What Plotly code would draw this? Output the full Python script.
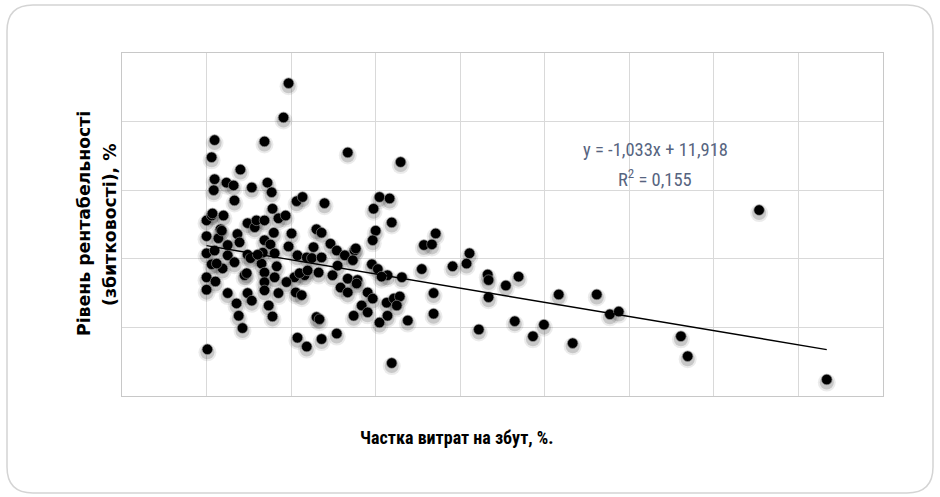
import plotly.graph_objects as go

# Share of distribution costs, % (x) vs. profitability (loss) level, % (y)
cost_share = [
    1.94, 1.82, 0.19, 0.12, 1.37, 3.34, 4.59, 0.80, 0.19, 0.17,
    0.47, 0.64, 1.07, 1.44, 1.54, 0.66, 1.56, 2.13, 2.27, 2.79,
    4.09, 4.33, 3.95, 4.38, 13.07,
    0.00, 0.12, 0.40, 0.97, 1.14, 1.18, 1.37, 1.70, 1.87, 0.33,
    0.00, 0.28, 0.73, 0.78, 1.59, 2.01, 1.37, 1.51, 1.94, 0.00,
    0.19, 0.50, 0.50, 0.97, 1.04, 1.33, 1.61, 2.15, 2.37, 0.12,
    0.38, 0.66, 1.30, 1.66, 0.00, 0.21, 0.90, 1.37, 1.61, 2.08,
    2.32, 0.24, 0.00, 0.50, 0.71, 0.76, 0.85, 0.02, 1.21, 0.95,
    0.97, 1.07, 1.37, 1.37, 1.47, 1.56, 1.70, 1.89, 2.11, 2.25,
    2.20, 2.15, 2.37, 2.60, 2.67, 2.72, 3.08,
    2.60, 2.72, 4.00, 3.93, 2.93, 3.08, 2.53, 3.50, 3.27, 2.49,
    2.72, 3.46, 3.10, 3.91, 4.05, 4.28, 4.62, 2.39, 2.65, 2.98,
    3.34, 3.57, 4.14, 3.17, 3.34, 3.55, 3.81, 3.93, 3.67, 3.81,
    3.48, 4.26, 4.43, 4.57, 4.50, 4.28, 4.09, 4.76, 4.38, 3.53,
    0.36, 0.14,
    5.14, 5.33, 5.42, 5.09, 5.37, 5.37, 5.82, 6.22, 6.15, 6.65,
    6.67, 6.67, 6.44, 7.08, 7.38, 7.29, 7.72, 7.98, 8.33, 8.66,
    9.23, 9.54, 9.75, 11.22, 11.38, 14.67,
]
profitability = [
    35.6, 30.6, 27.3, 24.8, 27.1, 25.5, 24.1, 23.0, 21.6, 20.0,
    21.1, 20.7, 20.4, 21.1, 19.7, 18.5, 17.3, 18.4, 19.0, 18.1,
    19.0, 18.8, 17.3, 15.3, 17.1,
    15.6, 16.3, 16.3, 15.2, 14.6, 15.6, 15.6, 15.9, 16.3, 14.3,
    13.3, 13.0, 13.6, 12.4, 13.8, 13.7, 12.7, 12.1, 11.8, 10.8,
    11.2, 12.0, 10.5, 10.6, 10.1, 10.9, 10.8, 10.5, 10.2, 9.2,
    8.6, 9.5, 9.3, 8.9, 7.3, 6.7, 7.6, 8.0, 7.3, 7.3,
    7.6, 9.3, 5.5, 5.0, 3.5, 1.7, -0.1, -3.2, 10.6, 7.9,
    5.0, 3.9, 6.6, 5.4, 3.2, 1.6, 5.0, 6.6, 5.1, 4.7,
    7.9, -1.5, -2.8, 1.5, 1.2, -1.7, -0.9,
    14.3, 13.8, 14.1, 12.7, 12.2, 11.2, 11.7, 11.2, 10.5, 10.1,
    10.2, 9.8, 9.0, 9.2, 8.5, 7.6, 7.3, 8.3, 8.0, 7.6,
    7.1, 6.9, 7.4, 5.8, 5.1, 6.4, 5.1, 4.2, 3.2, 2.2,
    1.7, 3.6, 4.2, 4.5, 3.2, 1.7, 0.7, 1.0, -5.2, 11.5,
    14.1, 16.6,
    12.0, 12.1, 13.7, 8.5, 5.0, 2.0, 8.9, 10.8, 9.3, 7.7,
    6.9, 4.4, -0.3, 6.1, 7.4, 0.9, -1.3, 0.4, 4.8, -2.3,
    4.8, 1.9, 2.3, -1.3, -4.2, -7.6,
]

# Linear trend reported on the chart
SLOPE = -1.033
INTERCEPT = 11.918
R_SQUARED = 0.155

X_RANGE = [-2, 16]
Y_RANGE = [-10, 40]

FIG_W, FIG_H = 940, 497
M_L, M_R, M_T, M_B = 122, 57, 53, 101
PLOT_W = FIG_W - M_L - M_R
PLOT_H = FIG_H - M_T - M_B


def px_to_paper_x(px):
    return (px - M_L) / PLOT_W


def px_to_paper_y(py):
    return (FIG_H - M_B - py) / PLOT_H


def fmt_uk(v, nd=3):
    return f"{v:.{nd}f}".replace(".", ",")


# soft drop shadow under each marker (shifted slightly down)
shadow_dy = (Y_RANGE[1] - Y_RANGE[0]) / PLOT_H * 3.0
shadow_y = [v - shadow_dy for v in profitability]

fig = go.Figure()
fig.add_trace(go.Scatter(
    x=cost_share, y=shadow_y, mode="markers",
    marker=dict(size=18, color="rgba(0,0,0,0.08)", line=dict(width=0)),
    hoverinfo="skip", showlegend=False,
))
fig.add_trace(go.Scatter(
    x=cost_share, y=shadow_y, mode="markers",
    marker=dict(size=14, color="rgba(0,0,0,0.15)", line=dict(width=0)),
    hoverinfo="skip", showlegend=False,
))
fig.add_trace(go.Scatter(
    x=cost_share, y=profitability, mode="markers",
    marker=dict(size=10.5, color="#000000",
                line=dict(width=1, color="rgba(150,150,150,0.6)")),
    showlegend=False,
))

x_lo, x_hi = min(cost_share), max(cost_share)
fig.add_trace(go.Scatter(
    x=[x_lo, x_hi],
    y=[SLOPE * x_lo + INTERCEPT, SLOPE * x_hi + INTERCEPT],
    mode="lines", line=dict(color="#000000", width=1.4),
    hoverinfo="skip", showlegend=False,
))

axis_common = dict(
    showticklabels=False, ticks="", zeroline=False,
    showgrid=True, gridcolor="#d9d9d9", gridwidth=1,
    showline=True, linecolor="#c8c8c8", linewidth=1, mirror=True,
)

# rounded outer frame
x0, x1 = px_to_paper_x(7), px_to_paper_x(933)
y0, y1 = px_to_paper_y(493), px_to_paper_y(5)
rx, ry = 26 / PLOT_W, 26 / PLOT_H
frame_path = (
    f"M {x0 + rx},{y1} L {x1 - rx},{y1} Q {x1},{y1} {x1},{y1 - ry} "
    f"L {x1},{y0 + ry} Q {x1},{y0} {x1 - rx},{y0} "
    f"L {x0 + rx},{y0} Q {x0},{y0} {x0},{y0 + ry} "
    f"L {x0},{y1 - ry} Q {x0},{y1} {x0 + rx},{y1} Z"
)

narrow = "Liberation Sans Narrow, Arial Narrow, Roboto Condensed, sans-serif"
eq_font = dict(family=narrow, size=18.5, color="#566480")
ytitle_font = dict(family="DejaVu Sans", size=17.3, color="#000000")

fig.update_layout(
    width=FIG_W, height=FIG_H,
    margin=dict(l=M_L, r=M_R, t=M_T, b=M_B),
    paper_bgcolor="#ffffff", plot_bgcolor="#ffffff",
    xaxis=dict(range=X_RANGE, dtick=2, **axis_common),
    yaxis=dict(range=Y_RANGE, dtick=10, **axis_common),
    shapes=[dict(type="path", path=frame_path, xref="paper", yref="paper",
                 line=dict(color="#d4d4d4", width=1.5), layer="below")],
    annotations=[
        dict(text=f"y = {fmt_uk(SLOPE)}x + {fmt_uk(INTERCEPT)}",
             xref="paper", yref="paper", xanchor="center", yanchor="middle",
             x=px_to_paper_x(655), y=px_to_paper_y(150),
             showarrow=False, font=eq_font),
        dict(text=f"R<sup>2</sup> = {fmt_uk(R_SQUARED)}",
             xref="paper", yref="paper", xanchor="center", yanchor="middle",
             x=px_to_paper_x(655), y=px_to_paper_y(178),
             showarrow=False, font=eq_font),
        dict(text="<b>Частка витрат на збут, %.</b>",
             xref="paper", yref="paper", xanchor="center", yanchor="middle",
             x=px_to_paper_x(457), y=px_to_paper_y(438),
             showarrow=False, font=dict(family=narrow, size=18, color="#000000")),
        dict(text="<b>Рівень рентабельності</b>",
             xref="paper", yref="paper", textangle=-90,
             xanchor="center", yanchor="middle",
             x=px_to_paper_x(84), y=px_to_paper_y(224),
             showarrow=False, font=ytitle_font),
        dict(text="<b>(збитковості), %</b>",
             xref="paper", yref="paper", textangle=-90,
             xanchor="center", yanchor="middle",
             x=px_to_paper_x(110), y=px_to_paper_y(225),
             showarrow=False, font=ytitle_font),
    ],
)

fig.write_html("out.html")
